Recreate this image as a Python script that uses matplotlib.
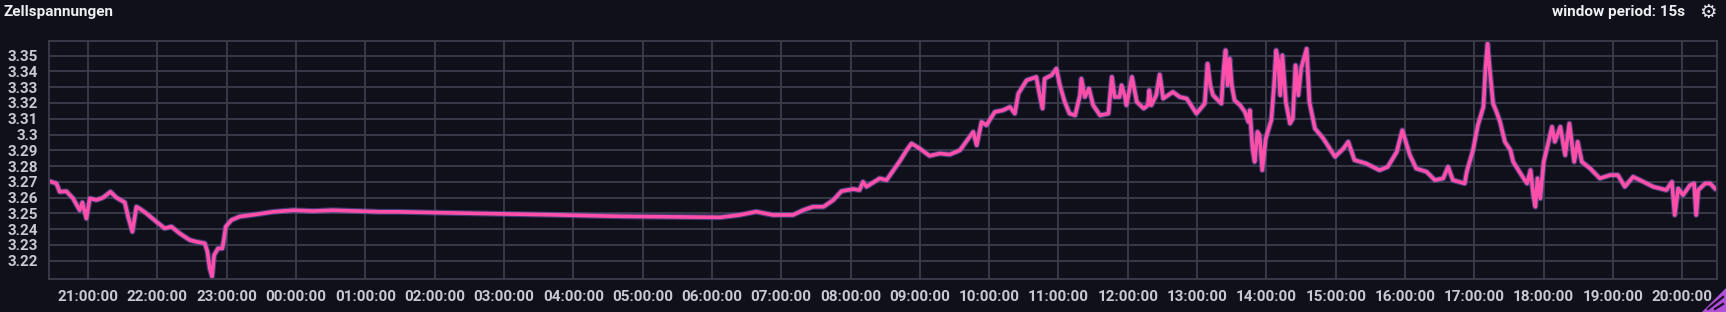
import numpy as np
import pandas as pd
import matplotlib
matplotlib.use("Agg")
import matplotlib.pyplot as plt
import matplotlib.dates as mdates
from matplotlib.patches import Polygon

# hours after midnight of the first day (values > 24 are the next day)
hours = [
    20.471, 20.544, 20.592, 20.688, 20.784, 20.880, 20.919, 20.976, 21.025, 21.121,
    21.217, 21.323, 21.409, 21.530, 21.578, 21.640, 21.698, 21.746, 21.842, 21.987,
    22.107, 22.203, 22.323, 22.468, 22.564, 22.684, 22.723, 22.756, 22.790, 22.819,
    22.876, 22.939, 22.963, 22.987, 23.069, 23.189, 23.430, 23.670, 23.959, 24.247,
    24.536, 24.873, 25.209, 25.474, 26.000, 27.000,
    27.81, 28.29, 28.77, 29.25, 29.73, 30.12, 30.40, 30.64, 30.88, 31.17,
    31.32, 31.46, 31.61, 31.75, 31.87, 32.04, 32.13, 32.18, 32.23,
    32.42, 32.52, 32.62, 32.71, 32.81, 32.88, 33.00, 33.14, 33.29, 33.43,
    33.58, 33.70, 33.77, 33.82, 33.89, 33.96, 34.08, 34.20, 34.30, 34.37,
    34.42, 34.54, 34.68, 34.73, 34.77, 34.80, 34.90, 34.97, 35.02, 35.09,
    35.16, 35.24, 35.31, 35.33, 35.38, 35.44, 35.50, 35.60, 35.72, 35.77,
    35.81, 35.88, 35.91, 35.96, 35.98, 36.06, 36.13, 36.23, 36.29, 36.31,
    36.34, 36.41, 36.46, 36.51, 36.65,
    36.75, 36.85, 36.99, 37.11, 37.15, 37.19, 37.23, 37.35, 37.38, 37.41,
    37.44, 37.47, 37.50, 37.54, 37.62, 37.69, 37.74, 37.76, 37.80, 37.83,
    37.87, 37.90, 37.94, 37.99, 38.07, 38.11, 38.14, 38.17, 38.20, 38.23,
    38.28, 38.34, 38.38, 38.42, 38.46, 38.50, 38.58, 38.62, 38.70, 38.82,
    38.99, 39.11, 39.18, 39.27, 39.44, 39.63, 39.75, 39.88, 39.96, 40.07,
    40.16, 40.31, 40.43, 40.55, 40.62, 40.69, 40.86, 40.89, 40.98, 41.05,
    41.13, 41.16, 41.19, 41.22, 41.27, 41.32,
    41.37, 41.44, 41.52, 41.56, 41.71, 41.76, 41.81, 41.85, 41.88, 41.91,
    41.95, 42.00, 42.07, 42.12, 42.16, 42.24, 42.31, 42.37, 42.44, 42.49,
    42.55, 42.67, 42.81, 42.96, 43.07, 43.17, 43.29, 43.44, 43.58, 43.77,
    43.85, 43.89, 43.94, 44.01, 44.11, 44.17, 44.20, 44.23, 44.33, 44.40,
    44.47,
]

volts = [
    3.2700, 3.2690, 3.2637, 3.2640, 3.2595, 3.2520, 3.2570, 3.2468, 3.2595, 3.2585,
    3.2600, 3.2637, 3.2600, 3.2570, 3.2480, 3.2384, 3.2542, 3.2530, 3.2500, 3.2447,
    3.2405, 3.2416, 3.2373, 3.2331, 3.2320, 3.2310, 3.2257, 3.2150, 3.2100, 3.2236,
    3.2278, 3.2278, 3.2342, 3.2416, 3.2458, 3.2480, 3.2494, 3.2510, 3.2520, 3.2515,
    3.2520, 3.2515, 3.2510, 3.2510, 3.2505, 3.2497,
    3.2490, 3.2485, 3.2481, 3.2479, 3.2477, 3.2475, 3.2490, 3.2511, 3.2490, 3.2490,
    3.2521, 3.2542, 3.2542, 3.2584, 3.2641, 3.2654, 3.2648, 3.2700, 3.2669,
    3.2722, 3.2711, 3.2774, 3.2831, 3.2901, 3.2943, 3.2911, 3.2865, 3.2880, 3.2873,
    3.2901, 3.2975, 3.3017, 3.2932, 3.3080, 3.3059, 3.3143, 3.3154, 3.3175, 3.3133,
    3.3259, 3.3344, 3.3365, 3.3249, 3.3165, 3.3354, 3.3376, 3.3418, 3.3312, 3.3207,
    3.3133, 3.3122, 3.3249, 3.3354, 3.3238, 3.3291, 3.3186, 3.3122, 3.3133, 3.3365,
    3.3238, 3.3238, 3.3312, 3.3238, 3.3186, 3.3365, 3.3207, 3.3165, 3.3186, 3.3281,
    3.3186, 3.3249, 3.3380, 3.3228, 3.3270,
    3.3238, 3.3228, 3.3133, 3.3196, 3.3449, 3.3312, 3.3249, 3.3196, 3.3397, 3.3534,
    3.3312, 3.3481, 3.3312, 3.3217, 3.3186, 3.3143, 3.3080, 3.3154, 3.2911, 3.2827,
    3.3017, 3.2996, 3.2774, 3.2975, 3.3091, 3.3312, 3.3534, 3.3470, 3.3249, 3.3502,
    3.3207, 3.3070, 3.3101, 3.3439, 3.3249, 3.3418, 3.3544, 3.3207, 3.3038, 3.2975,
    3.2859, 3.2911, 3.2954, 3.2838, 3.2816, 3.2774, 3.2795, 3.2890, 3.3027, 3.2869,
    3.2785, 3.2764, 3.2711, 3.2722, 3.2795, 3.2711, 3.2690, 3.2764, 3.2901, 3.3059,
    3.3175, 3.3418, 3.3576, 3.3418, 3.3196, 3.3143,
    3.3080, 3.2954, 3.2901, 3.2827, 3.2722, 3.2690, 3.2774, 3.2616, 3.2542, 3.2722,
    3.2595, 3.2827, 3.2954, 3.3049, 3.2954, 3.3049, 3.2869, 3.3070, 3.2827, 3.2954,
    3.2827, 3.2785, 3.2722, 3.2743, 3.2743, 3.2669, 3.2732, 3.2700, 3.2669, 3.2648,
    3.2700, 3.2490, 3.2658, 3.2616, 3.2679, 3.2690, 3.2490, 3.2648, 3.2690, 3.2690,
    3.2658,
]

y_ticks = [3.22, 3.23, 3.24, 3.25, 3.26, 3.27, 3.28, 3.29, 3.30, 3.31, 3.32, 3.33, 3.34, 3.35]
y_labels = ["3.22", "3.23", "3.24", "3.25", "3.26", "3.27", "3.28", "3.29", "3.3",
            "3.31", "3.32", "3.33", "3.34", "3.35"]

BG = "#10101a"
GRID = "#3c3c4a"
TXT = "#c8c8d2"

base = pd.Timestamp("2023-06-01 00:00:00")
times = base + pd.to_timedelta(hours, unit="h")
t_start = base + pd.to_timedelta(20.437, unit="h")
t_end = base + pd.to_timedelta(44.50, unit="h")

plt.rcParams['font.family'] = ['Roboto', 'DejaVu Sans']

fig = plt.figure(figsize=(17.26, 3.12), dpi=100, facecolor=BG)
ax = fig.add_axes([49 / 1726, 1 - 279 / 312, (1717 - 49) / 1726, (279 - 41) / 312])
ax.set_facecolor(BG)

ax.plot(times, volts, color="#6f5cc0", linewidth=4.2, alpha=0.55, solid_joinstyle="round")
ax.plot(times, volts, color="#ff4fa8", linewidth=2.6, solid_joinstyle="round")

ax.set_xlim(t_start, t_end)
ax.set_ylim(3.2084, 3.3593)
ax.set_yticks(y_ticks)
ax.set_yticklabels(y_labels)

ax.xaxis.set_major_locator(mdates.HourLocator(interval=1))
ax.xaxis.set_major_formatter(mdates.DateFormatter("%H:%M:%S"))

ax.grid(True, color=GRID, linewidth=1.3)
ax.set_axisbelow(True)
for s in ax.spines.values():
    s.set_color(GRID)
    s.set_linewidth(1.3)
ax.tick_params(length=0, colors=TXT, labelsize=11, pad=8)
for lab in ax.get_xticklabels() + ax.get_yticklabels():
    lab.set_fontweight("bold")

fig.text(3 / 1726, 1 - 12 / 312, "Zellspannungen", color="#eeeef4", fontsize=11,
         fontweight="bold", ha="left", va="center")
fig.text(1685 / 1726, 1 - 12 / 312, "window period: 15s", color="#eeeef4", fontsize=11,
         fontweight="bold", ha="right", va="center")
fig.text(1708 / 1726, 1 - 12 / 312, "\u2699", color="#e4e4ec", fontsize=14,
         family="DejaVu Sans", fontweight="bold", ha="center", va="center")

# resize handle in the corner
W, H = 1726, 312
tri = Polygon([(1 - 24 / W, 0), (1, 0), (1, 24 / H)], closed=True,
              transform=fig.transFigure, color="#b14fd8")
fig.patches.append(tri)
for d in (8, 15):
    fig.add_artist(plt.Line2D([1 - d / W - 3 / W, 1 - 3 / W], [3 / H, (d + 0) / H],
                              transform=fig.transFigure, color="#1a1024", linewidth=1.6))

fig.savefig("out.png", dpi=100, facecolor=BG)
